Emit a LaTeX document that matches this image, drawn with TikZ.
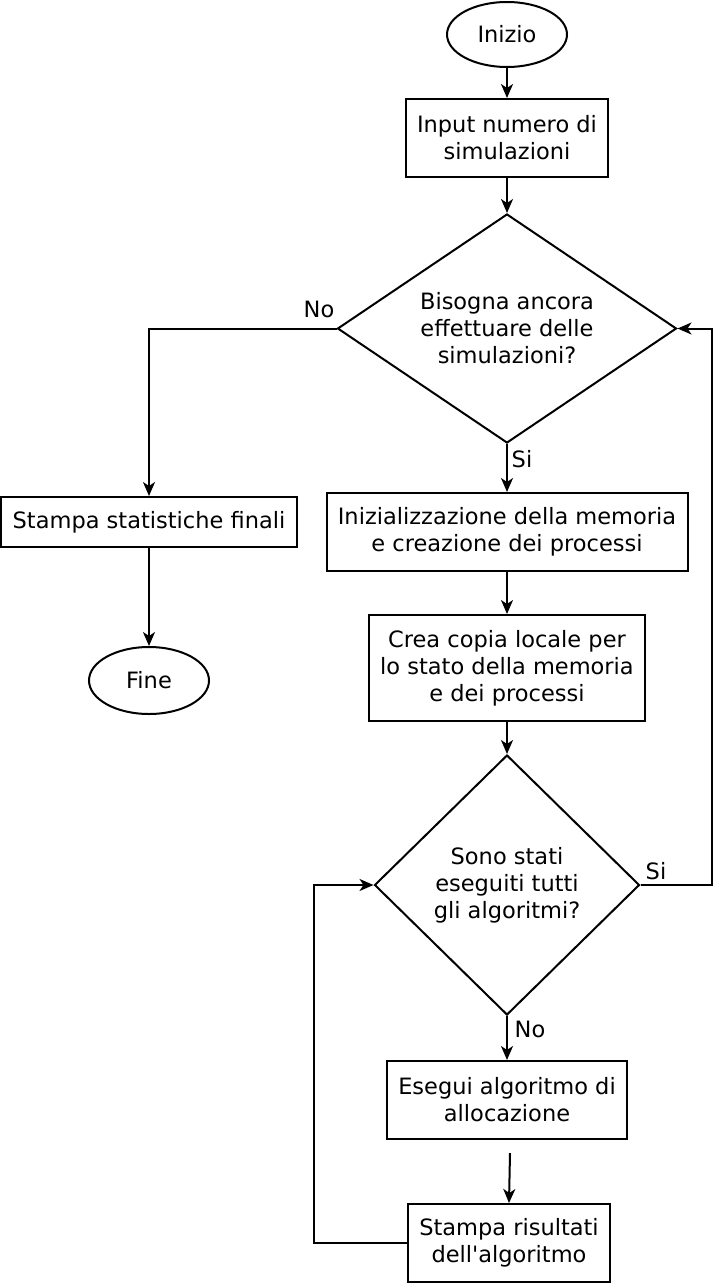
\documentclass[tikz,border=0pt]{standalone}
\usepackage{fontspec}
\setmainfont{DejaVu Sans}
\usetikzlibrary{shapes.geometric,arrows.meta}
\begin{document}
\begin{tikzpicture}[x=1pt,y=-1pt,
  font=\fontsize{22.5pt}{27pt}\selectfont,
  line width=2pt,
  >={Stealth[length=14pt,width=12pt,inset=4pt]},
  box/.style={draw, rectangle, inner sep=0pt, align=center},
  term/.style={draw, ellipse, inner sep=0pt, minimum width=120pt},
  dec/.style={draw, diamond, inner sep=0pt, align=center},
  lbl/.style={inner sep=0pt}]
\useasboundingbox (0,0) rectangle (713,1284);

\node[term, minimum height=65pt] (start) at (507,34.5) {Inizio};
\node[box, minimum width=202pt, minimum height=78pt] (input) at (507,138) {Input numero di\\simulazioni};
\node[dec, shape aspect=1.48, minimum width=339pt, minimum height=229pt] (d1) at (507,328.5) {Bisogna ancora\\effettuare delle\\simulazioni?};
\node[box, minimum width=296pt, minimum height=50pt] (stat) at (149,522) {Stampa statistiche finali};
\node[term, minimum height=67pt] (fine) at (149,680.5) {Fine};
\node[box, minimum width=361pt, minimum height=78pt] (init) at (507,532) {Inizializzazione della memoria\\e creazione dei processi};
\node[box, minimum width=276pt, minimum height=106pt] (copia) at (507,668) {Crea copia locale per\\lo stato della memoria\\e dei processi};
\node[dec, shape aspect=1.02, minimum width=265pt, minimum height=260pt] (d2) at (507,885) {Sono stati\\eseguiti tutti\\gli algoritmi?};
\node[box, minimum width=240pt, minimum height=78pt] (esegui) at (507,1100) {Esegui algoritmo di\\allocazione};
\node[box, minimum width=202pt, minimum height=78pt] (ris) at (509,1243) {Stampa risultati\\dell\textquotesingle algoritmo};

\node[lbl] (no1) at (319,309) {No};
\node[lbl] (si1) at (522,459) {Si};
\node[lbl] (si2) at (656,871) {Si};
\node[lbl] (no2) at (530,1029) {No};

\coordinate (rt) at (712,885);
\coordinate (e0) at (510,1153);
\coordinate (lf) at (314,1243);

\draw[->] (start) -- (input);
\draw[->] (input) -- (d1.north);
\draw[->] (d1.west) -| (stat.north);
\draw[->] (stat) -- (fine);
\draw[->] (d1.south) -- (init.north);
\draw[->] (init) -- (copia);
\draw[->] (copia) -- (d2.north);
\draw[->] (d2.east) -- (rt) |- (d1.east);
\draw[->] (d2.south) -- (esegui.north);
\draw[->] (e0) -- (ris.north);
\draw[->] (ris.west) -- (lf) |- (d2.west);
\end{tikzpicture}
\end{document}
